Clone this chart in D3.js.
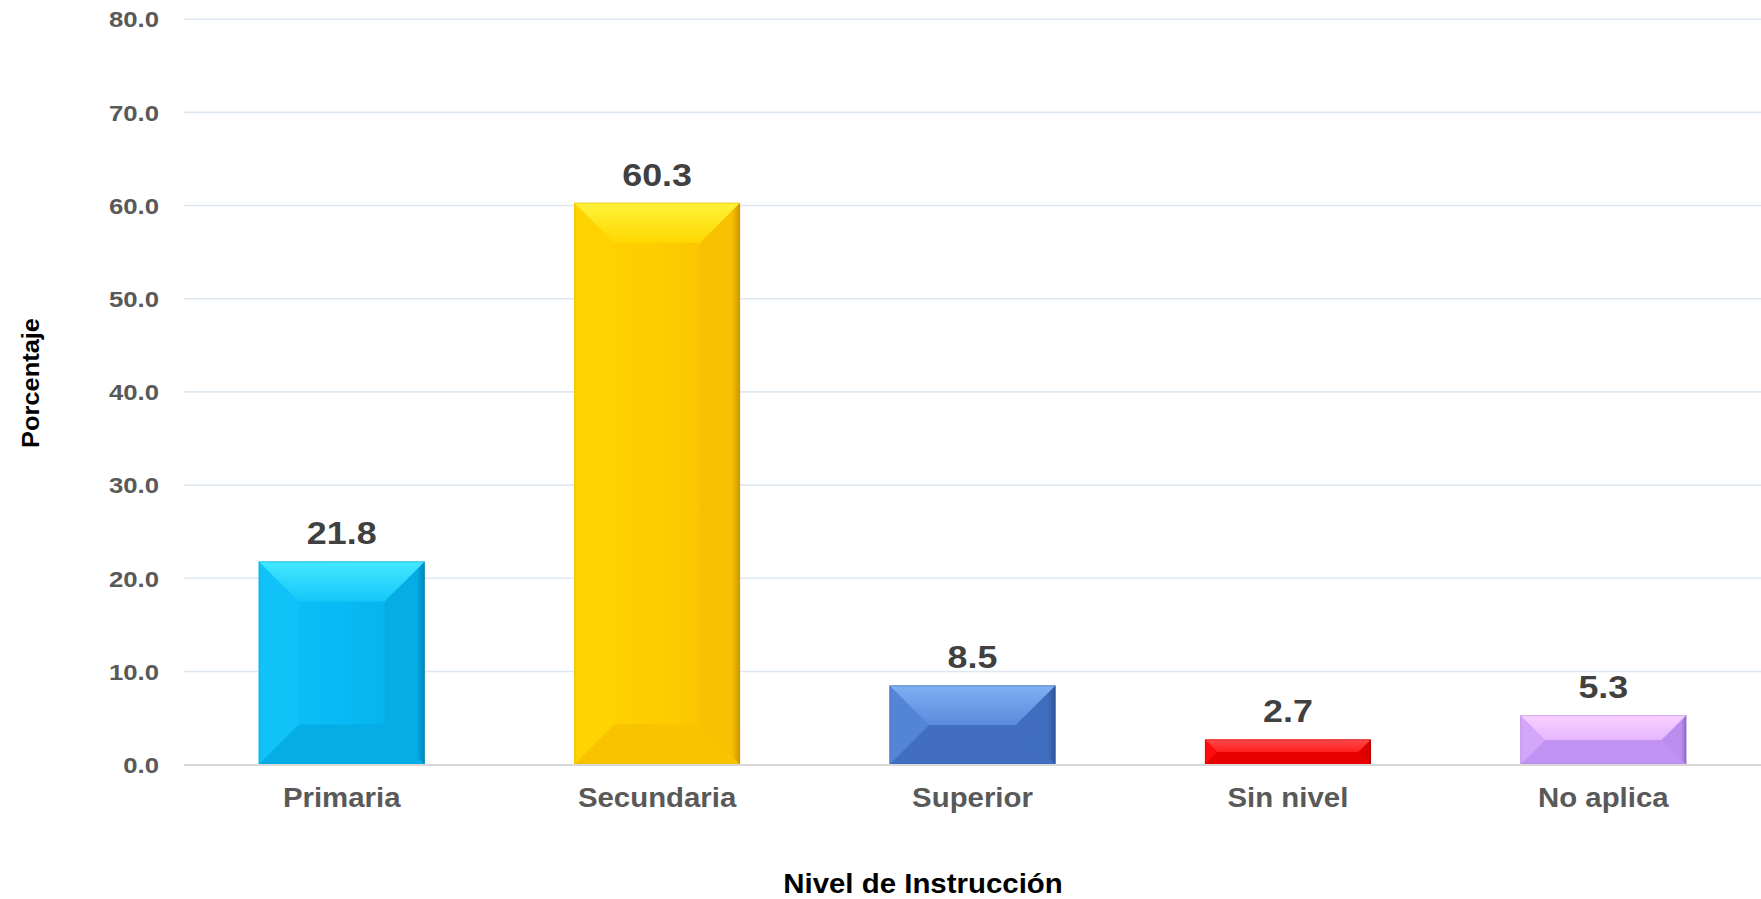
<!DOCTYPE html>
<html><head><meta charset="utf-8">
<script src="https://cdn.jsdelivr.net/npm/d3@7"></script>
<style>
html,body{margin:0;padding:0;background:#fff;}
svg{display:block;font-family:"Liberation Sans",Arial,sans-serif;}
</style></head>
<body>
<svg id="chart" width="1761" height="899"></svg>
<script>
const categories = ["Primaria","Secundaria","Superior","Sin nivel","No aplica"];
const values = [21.8, 60.3, 8.5, 2.7, 5.3];
const yTicks = [0,10,20,30,40,50,60,70,80];
const yTitle = "Porcentaje";
const xTitle = "Nivel de Instrucción";
// face colours: [center, topEdge, topInner, left, rightInner, rightEdge, bottom]
const palettes = [
  ["#08BAF5","#44E8FF","#14C6F8","#10C2F8","#06ACE6","#0084B6","#05ADE6"],
  ["#FFCC00","#FFF23A","#FFD800","#FFD300","#F7C000","#C89600","#FAC300"],
  ["#4674C6","#7FB0F2","#5A8ADC","#5384D6","#416DBE","#2E5598","#416EC0"],
  ["#F00000","#FF4848","#FF2020","#FC0C0C","#DE0000","#A80000","#E80000"],
  ["#C594F8","#F9D0FF","#E5B6FF","#D4A6F9","#BB8DEE","#9068C2","#C092F4"]
];

const svg = d3.select("#chart");
const W = 1761;
const x = d3.scaleBand().domain(categories).range([184, 1761]).paddingInner(0.474).paddingOuter(0.237);
const y = d3.scaleLinear().domain([0, 80]).range([764.6, 19.2]);

// gridlines
svg.append("g").selectAll("line").data(yTicks.filter(t => t > 0)).join("line")
  .attr("x1", 184).attr("x2", W)
  .attr("y1", d => y(d)).attr("y2", d => y(d))
  .attr("stroke", "#dde8f2").attr("stroke-width", 1.6);

// helper: text with horizontal stretch
function stretchedText(sel, sx) {
  return sel.attr("transform", d => d.__t ? d.__t : null);
}

// y tick labels
svg.append("g").selectAll("text").data(yTicks).join("text")
  .attr("transform", d => `translate(159,${y(d)}) scale(1.12,1)`)
  .attr("dy", "0.36em")
  .attr("text-anchor", "end")
  .attr("font-size", 23).attr("font-weight", "bold").attr("fill", "#595959")
  .text(d => d.toFixed(1));

const defs = svg.append("defs");
palettes.forEach((p, i) => {
  const gT = defs.append("linearGradient").attr("id", "gt" + i).attr("x1", 0).attr("y1", 0).attr("x2", 0).attr("y2", 1);
  gT.append("stop").attr("offset", 0).attr("stop-color", p[1]);
  gT.append("stop").attr("offset", 1).attr("stop-color", p[2]);
  const gR = defs.append("linearGradient").attr("id", "gr" + i).attr("x1", 0).attr("y1", 0).attr("x2", 1).attr("y2", 0);
  gR.append("stop").attr("offset", 0).attr("stop-color", p[4]);
  gR.append("stop").attr("offset", 0.8).attr("stop-color", p[4]);
  gR.append("stop").attr("offset", 1).attr("stop-color", p[5]);
  const gC = defs.append("linearGradient").attr("id", "gc" + i).attr("x1", 0).attr("y1", 0).attr("x2", 1).attr("y2", 0);
  gC.append("stop").attr("offset", 0).attr("stop-color", p[3]);
  gC.append("stop").attr("offset", 0.5).attr("stop-color", p[0]);
  gC.append("stop").attr("offset", 1).attr("stop-color", p[4]);
});

const data = categories.map((c, i) => ({c, v: values[i], i}));
const bars = svg.append("g").selectAll("g").data(data).join("g");
bars.each(function(d) {
  const g = d3.select(this);
  const x0 = x(d.c), w = x.bandwidth(), x1 = x0 + w;
  const yt = y(d.v), yb = y(0), h = yb - yt;
  const b = Math.min(40, h / 2, w / 2);
  const p = palettes[d.i];
  const pts = a => a.map(q => q.join(",")).join(" ");
  g.append("rect").attr("x", x0).attr("y", yt).attr("width", w).attr("height", h).attr("fill", "url(#gc" + d.i + ")");
  g.append("polygon").attr("points", pts([[x0,yt],[x0+b,yt+b],[x0+b,yb-b],[x0,yb]])).attr("fill", p[3]);
  g.append("polygon").attr("points", pts([[x1,yt],[x1-b,yt+b],[x1-b,yb-b],[x1,yb]])).attr("fill", "url(#gr" + d.i + ")");
  g.append("polygon").attr("points", pts([[x0,yb],[x0+b,yb-b],[x1-b,yb-b],[x1,yb]])).attr("fill", p[6]);
  g.append("polygon").attr("points", pts([[x0,yt],[x0+b,yt+b],[x1-b,yt+b],[x1,yt]])).attr("fill", "url(#gt" + d.i + ")");
  g.append("rect").attr("x", x0 + 0.5).attr("y", yt + 0.5).attr("width", w - 1).attr("height", h - 1)
    .attr("fill", "none").attr("stroke", p[5]).attr("stroke-opacity", 0.3).attr("stroke-width", 1);
});

// axis line
svg.append("line").attr("x1", 184).attr("x2", W).attr("y1", y(0) + 0.5).attr("y2", y(0) + 0.5)
  .attr("stroke", "#d9d9d9").attr("stroke-width", 2);

// value labels
svg.append("g").selectAll("text").data(data).join("text")
  .attr("transform", d => `translate(${x(d.c) + x.bandwidth() / 2},${y(d.v) - 17}) scale(1.12,1)`)
  .attr("text-anchor", "middle").attr("font-size", 32).attr("font-weight", "bold").attr("fill", "#404040")
  .text(d => d.v.toFixed(1));

// category labels
svg.append("g").selectAll("text").data(categories).join("text")
  .attr("transform", d => `translate(${x(d) + x.bandwidth() / 2},807) scale(1.05,1)`)
  .attr("text-anchor", "middle").attr("font-size", 28).attr("font-weight", "bold").attr("fill", "#595959")
  .text(d => d);

// axis titles
svg.append("text").attr("transform", "translate(923,893) scale(1.09,1)").attr("text-anchor", "middle")
  .attr("font-size", 27).attr("font-weight", "bold").attr("fill", "#000").text(xTitle);
svg.append("text").attr("transform", "translate(39,383) rotate(-90) scale(1.06,1)").attr("text-anchor", "middle")
  .attr("font-size", 24).attr("font-weight", "bold").attr("fill", "#000").text(yTitle);
</script>
</body></html>
